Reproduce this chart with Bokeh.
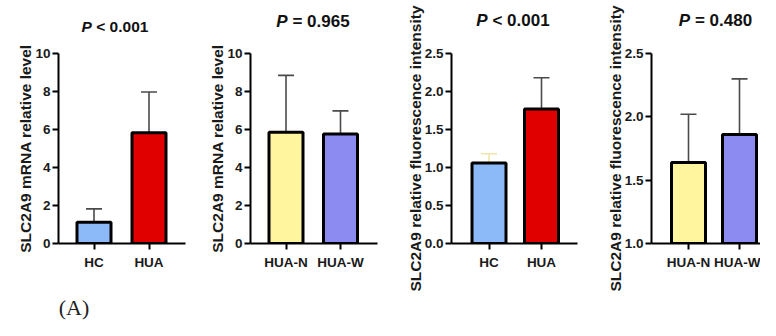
from bokeh.plotting import figure
from bokeh.layouts import row
from bokeh.models import (Range1d, FixedTicker, Whisker, TeeHead, Label,
                          ColumnDataSource, NumeralTickFormatter)
from bokeh.embed import file_html
from bokeh.resources import INLINE

# ---------------- data ----------------
groups_hc = ["HC", "HUA"]
groups_hua = ["HUA-N", "HUA-W"]

mrna_hc_mean = [1.12, 5.83]
mrna_hc_sd = [0.70, 2.14]
mrna_hua_mean = [5.85, 5.76]
mrna_hua_sd = [3.00, 1.22]
fluo_hc_mean = [1.06, 1.77]
fluo_hc_sd = [0.12, 0.41]
fluo_hua_mean = [1.64, 1.86]
fluo_hua_sd = [0.38, 0.44]

p_texts = ["< 0.001", "= 0.965", "< 0.001", "= 0.480"]
ylabel_mrna = "SLC2A9 mRNA relative level"
ylabel_fluo = "SLC2A9 relative fluorescence intensity"
yticks_mrna = [0, 2, 4, 6, 8, 10]
yticks_fluo_hc = [0.0, 0.5, 1.0, 1.5, 2.0, 2.5]
yticks_fluo_hua = [1.0, 1.5, 2.0, 2.5]
panel_label = "(A)"

colors = {"HC": "#8CBAF8", "HUA": "#E00000", "HUA-N": "#FFF59E", "HUA-W": "#8B8BF2"}
ERR = "#4a4a4a"
ERR_FAINT = "#F2E4A8"

FONT = "Liberation Sans"
H = 320
TICK_FS = "13.5px"
TITLE_DX = -1
TITLE_DY = 8


def make_panel(cats, means, sds, ylabel, yticks, fmt, ymin, ymax, ptxt,
               fig_left, fig_w, fl, fw, ft, fb, centers, tcx, tbase,
               lsize, lstand, errcols, fs):
    unit = centers[1] - centers[0]
    x0 = 0.5 - centers[0] / unit
    x1 = x0 + fw / unit
    bw = 34.0 / unit
    p = figure(width=fig_w, height=H, x_range=Range1d(x0, x1),
               y_range=Range1d(ymin, ymax), output_backend="svg",
               toolbar_location=None,
               min_border_left=fl - fig_left,
               min_border_right=fig_w - (fl - fig_left) - fw,
               min_border_top=ft, min_border_bottom=H - fb)
    p.outline_line_color = None
    p.xgrid.visible = False
    p.ygrid.visible = False
    p.background_fill_color = "white"
    p.border_fill_color = "white"

    xs = [i + 0.5 for i in range(len(cats))]
    src = ColumnDataSource(dict(x=xs, top=means,
                                color=[colors[c] for c in cats]))
    p.vbar(x="x", top="top", bottom=ymin, width=bw, fill_color="color",
           line_color="black", line_width=3, source=src)
    for i in range(len(cats)):
        s = ColumnDataSource(dict(x=[xs[i]], lo=[means[i]],
                                  hi=[means[i] + sds[i]]))
        w = Whisker(base="x", lower="lo", upper="hi", source=s,
                    dimension="height", lower_head=None,
                    upper_head=TeeHead(size=16, line_color=errcols[i],
                                       line_width=1.6),
                    line_color=errcols[i], line_width=1.6)
        p.add_layout(w)

    for ax in (p.xaxis[0], p.yaxis[0]):
        ax.axis_line_width = 2
        ax.axis_line_color = "black"
        ax.major_tick_line_width = 2
        ax.major_tick_line_color = "black"
        ax.major_tick_in = 0
        ax.major_tick_out = 6
        ax.minor_tick_line_color = None
        ax.major_label_text_font = FONT
        ax.major_label_text_font_style = "bold"
        ax.major_label_text_font_size = TICK_FS
        ax.major_label_text_color = "#1a1a1a"
    p.xaxis.ticker = FixedTicker(ticks=xs)
    p.xaxis.major_label_overrides = {x: c for x, c in zip(xs, cats)}
    p.xaxis.major_label_standoff = 5
    p.yaxis.ticker = FixedTicker(ticks=yticks, minor_ticks=[])
    p.yaxis.formatter = NumeralTickFormatter(format=fmt)
    p.yaxis.major_label_standoff = 2
    p.yaxis.axis_label = ylabel
    p.yaxis.axis_label_text_font = FONT
    p.yaxis.axis_label_text_font_style = "bold"
    p.yaxis.axis_label_text_font_size = f"{lsize}px"
    p.yaxis.axis_label_text_color = "#1a1a1a"
    p.yaxis.axis_label_standoff = lstand

    # title "P < 0.001" with italic P, as labels in the "above" panels
    wP = 0.667 * fs
    wsp = 0.278 * fs
    total = (0.667 + 3.642) * fs
    xl_px = tcx - fl - total / 2.0 + TITLE_DX
    xl = x0 + xl_px / unit
    xr = x0 + (xl_px + wP + wsp) / unit
    yb = ft + TITLE_DY - tbase
    lbl_h = round(1.117 * fs)
    p.add_layout(Label(x=xl, y=yb, x_units="data", y_units="screen",
                       text="P", text_font=FONT,
                       text_font_style="bold italic",
                       text_font_size=f"{fs}px", text_baseline="alphabetic",
                       text_align="left", text_color="#111111"), "above")
    p.add_layout(Label(x=xr, y=yb - lbl_h, x_units="data",
                       y_units="screen", text=ptxt, text_font=FONT,
                       text_font_style="bold", text_font_size=f"{fs}px",
                       text_baseline="alphabetic", text_align="left",
                       text_color="#111111"), "above")
    return p, x0, unit


p1, x0_1, u1 = make_panel(groups_hc, mrna_hc_mean, mrna_hc_sd, ylabel_mrna,
                          yticks_mrna, "0", 0, 10, p_texts[0], 0, 195, 58, 127,
                          52, 243, (35.5, 90.5), 115.5, 33, 15.5, -2,
                          [ERR, ERR], 15.5)
p2, _, _ = make_panel(groups_hua, mrna_hua_mean, mrna_hua_sd, ylabel_mrna,
                      yticks_mrna, "0", 0, 10, p_texts[1], 195, 195, 250, 127,
                      52, 244, (35.5, 90), 313.5, 27.5, 15.5, -2, [ERR, ERR],
                      17)
p3, _, _ = make_panel(groups_hc, fluo_hc_mean, fluo_hc_sd, ylabel_fluo,
                      yticks_fluo_hc, "0.0", 0, 2.5, p_texts[2], 390, 200, 451,
                      126, 53, 246, (37.5, 90), 513.5, 28, 15.5, -2,
                      [ERR_FAINT, ERR], 17)
p4, _, _ = make_panel(groups_hua, fluo_hua_mean, fluo_hua_sd, ylabel_fluo,
                      yticks_fluo_hua, "0.0", 1.0, 2.5, p_texts[3], 590, 170,
                      651, 109, 53, 246, (37, 88), 716, 28, 15.5, -2,
                      [ERR, ERR], 17)

p1.add_layout(Label(x=x0_1 + (73.5 - 58) / u1, y=-10, x_units="data",
                    y_units="screen", text=panel_label,
                    text_font="Liberation Serif", text_font_size="22px",
                    text_baseline="middle", text_align="center",
                    text_color="#222222"), "below")

layout = row(p1, p2, p3, p4)
open("out.html", "w").write(file_html(layout, INLINE))
